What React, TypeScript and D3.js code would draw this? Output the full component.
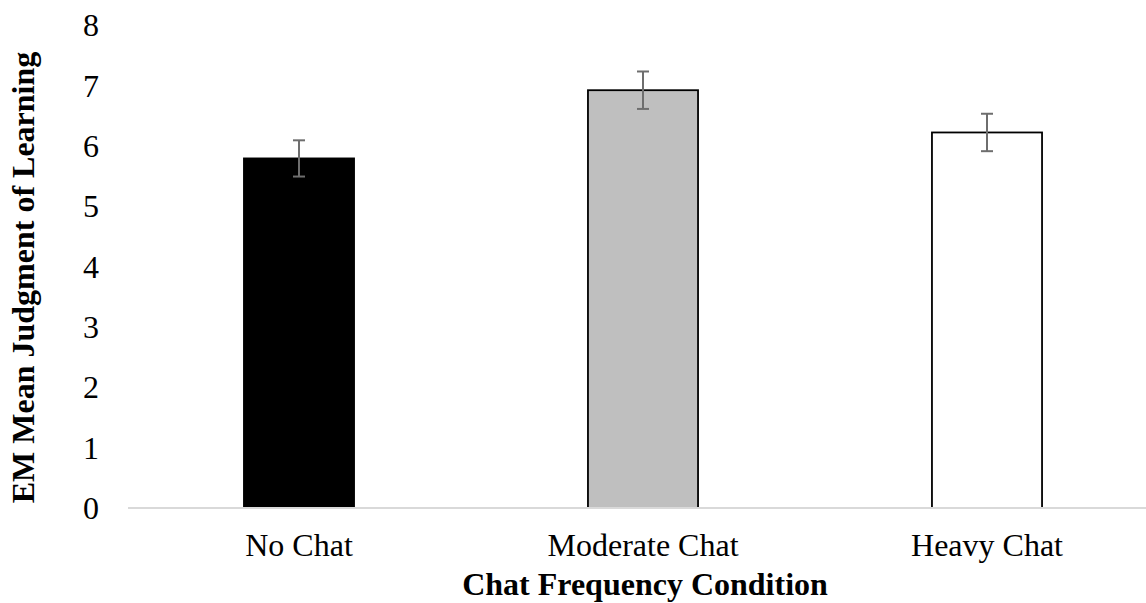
import React from "react";
import * as d3 from "d3";

const categories = ["No Chat", "Moderate Chat", "Heavy Chat"];
const means = [5.79, 6.92, 6.22];
const errors = [0.3, 0.31, 0.31];
const fills = ["#000000", "#bfbfbf", "#ffffff"];
const yTicks = [0, 1, 2, 3, 4, 5, 6, 7, 8];

const W = 1146;
const H = 603;
const FONT = "'Liberation Serif', 'Times New Roman', serif";

export default function App() {
  const x = d3
    .scaleBand<string>()
    .domain(categories)
    .range([127, 1159])
    .paddingInner(0.68)
    .paddingOuter(0.34);
  const y = d3.scaleLinear().domain([0, 8]).range([508, 25]);
  const bw = x.bandwidth();

  return (
    <svg
      width={W}
      height={H}
      style={{ position: "absolute", left: 0, top: 0, background: "#fff" }}
      fontFamily={FONT}
    >
      {yTicks.map((t) => (
        <text
          key={t}
          x={99}
          y={y(t)}
          dy="0.35em"
          textAnchor="end"
          fontSize={32}
          fill="#000"
        >
          {t}
        </text>
      ))}
      {categories.map((c, i) => {
        const x0 = x(c)!;
        const yTop = y(means[i]);
        return (
          <rect
            key={c}
            x={x0}
            y={yTop}
            width={bw}
            height={y(0) - yTop}
            fill={fills[i]}
            stroke="#000"
            strokeWidth={1.8}
          />
        );
      })}
      <line x1={128} x2={W} y1={y(0)} y2={y(0)} stroke="#d9d9d9" strokeWidth={2} />
      {categories.map((c, i) => {
        const cx = x(c)! + bw / 2;
        const y1 = y(means[i] + errors[i]);
        const y2 = y(means[i] - errors[i]);
        return (
          <g key={"e" + c} stroke="#6e6e6e" strokeWidth={2}>
            <line x1={cx} x2={cx} y1={y1} y2={y2} />
            <line x1={cx - 6} x2={cx + 6} y1={y1} y2={y1} />
            <line x1={cx - 6} x2={cx + 6} y1={y2} y2={y2} />
          </g>
        );
      })}
      {categories.map((c) => (
        <text
          key={"l" + c}
          x={x(c)! + bw / 2}
          y={556}
          textAnchor="middle"
          fontSize={32}
          fill="#000"
        >
          {c}
        </text>
      ))}
      <text
        x={645}
        y={595}
        textAnchor="middle"
        fontSize={32}
        fontWeight="bold"
        fill="#000"
      >
        Chat Frequency Condition
      </text>
      <text
        transform={`translate(34, 277.5) rotate(-90)`}
        textAnchor="middle"
        fontSize={32}
        fontWeight="bold"
        fill="#000"
      >
        EM Mean Judgment of Learning
      </text>
    </svg>
  );
}
